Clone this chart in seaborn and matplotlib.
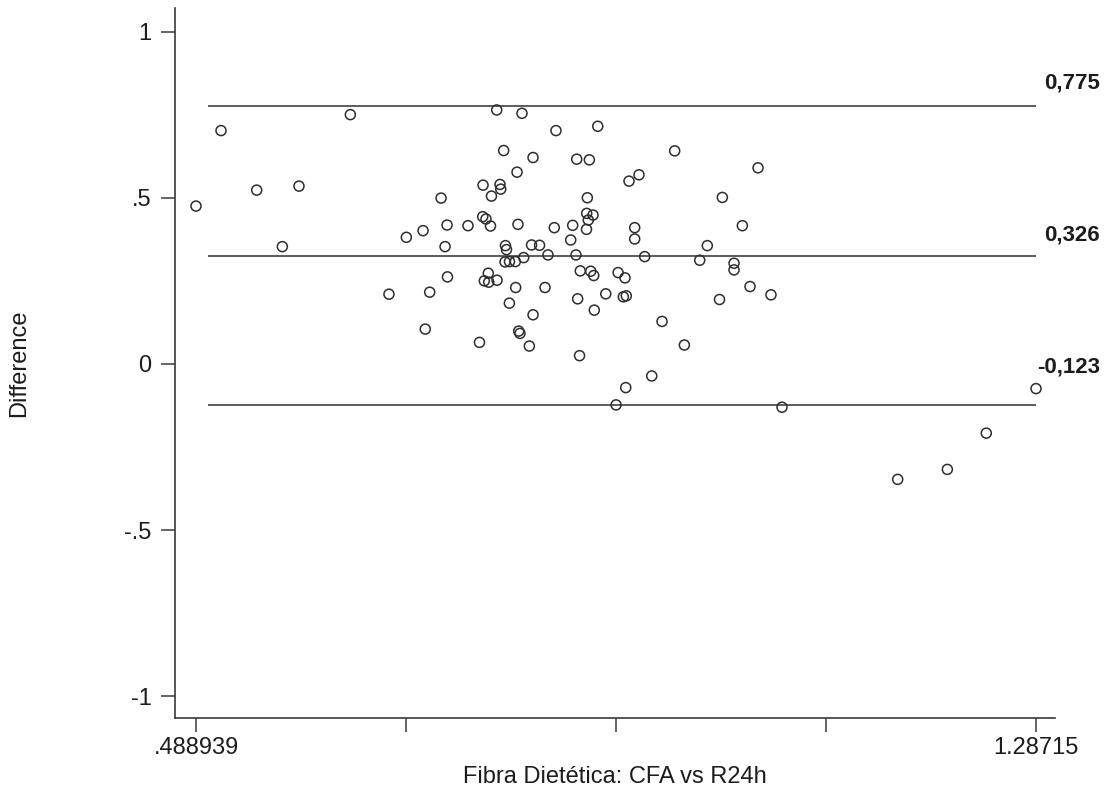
import matplotlib
matplotlib.use("Agg")
import matplotlib.pyplot as plt
import seaborn as sns
import pandas as pd

# Bland-Altman: mean of the two methods (x) vs their difference (y)
mean_values = [
    0.488939, 0.5127, 0.5466, 0.5868, 0.5710, 0.6356, 0.6723, 0.6888, 0.7047, 0.7068,
    0.7110, 0.7218, 0.7256, 0.7275, 0.7279, 0.7474, 0.7583, 0.7617, 0.7614, 0.7645,
    0.7688, 0.7697, 0.7667, 0.7629, 0.7671, 0.7750, 0.7747, 0.7778, 0.7785, 0.7813,
    0.7830, 0.7840, 0.7826, 0.7868, 0.7924, 0.7867, 0.7927, 0.7940, 0.7949, 0.7956,
    0.7968, 0.7987, 0.8003, 0.8057, 0.8078, 0.8154, 0.8092, 0.8092, 0.8206, 0.8234,
    0.8294, 0.8310, 0.8450, 0.8469, 0.8500, 0.8507, 0.8516, 0.8534, 0.8541, 0.8602,
    0.8608, 0.8617, 0.8600, 0.8627, 0.8640, 0.8662, 0.8669, 0.8674, 0.8707, 0.8783,
    0.8881, 0.8900, 0.8950, 0.8966, 0.8978, 0.8973, 0.9004, 0.9058, 0.9058, 0.9099,
    0.9153, 0.9220, 0.9318, 0.9438, 0.9530, 0.9676, 0.9748, 0.9864, 0.9891, 1.0002,
    1.0002, 1.0081, 1.0154, 1.0230, 1.0353, 1.0458, 1.1557, 1.2029, 1.2399, 1.28715,
]
diff_values = [
    0.475, 0.702, 0.523, 0.535, 0.353, 0.750, 0.210, 0.381, 0.401, 0.105,
    0.216, 0.499, 0.353, 0.418, 0.262, 0.416, 0.065, 0.538, 0.443, 0.436,
    0.415, 0.505, 0.273, 0.250, 0.246, 0.252, 0.764, 0.540, 0.526, 0.642,
    0.356, 0.344, 0.307, 0.308, 0.308, 0.183, 0.230, 0.577, 0.420, 0.099,
    0.092, 0.754, 0.320, 0.054, 0.358, 0.357, 0.621, 0.148, 0.230, 0.328,
    0.410, 0.702, 0.373, 0.417, 0.328, 0.616, 0.196, 0.025, 0.280, 0.453,
    0.500, 0.433, 0.405, 0.614, 0.279, 0.448, 0.266, 0.162, 0.715, 0.211,
    -0.123, 0.275, 0.202, 0.259, 0.205, -0.071, 0.550, 0.410, 0.376, 0.569,
    0.323, -0.036, 0.128, 0.641, 0.057, 0.312, 0.356, 0.194, 0.501, 0.303,
    0.283, 0.416, 0.233, 0.590, 0.208, -0.130, -0.347, -0.317, -0.208, -0.074,
]

# Mean difference and limits of agreement
agreement_values = [0.775, 0.326, -0.123]
agreement_labels = ["0,775", "0,326", "-0,123"]
agreement_label_lift = [9.5, 7.5, 19.5]  # points above each line
line_start = 0.5

y_ticks = [1, 0.5, 0, -0.5, -1]
y_tick_labels = ["1", ".5", "0", "-.5", "-1"]
x_tick_labels = [".488939", "", "", "", "1.28715"]

sns.set_theme(style="white")
plt.rcParams["font.family"] = ["Liberation Sans", "DejaVu Sans"]
text_color = "#1c1c1c"
axis_color = "#3a3a3a"

df = pd.DataFrame({"mean": mean_values, "diff": diff_values})

fig = plt.figure(figsize=(11.12, 7.92), dpi=100)
ax = fig.add_axes([175 / 1112, 1 - 718 / 792, 880 / 1112, 710 / 792])

x_lo, x_hi = min(mean_values), max(mean_values)
for val in agreement_values:
    ax.hlines(val, line_start, x_hi, color="#5c5c5c", linewidth=1.4, zorder=1)

sns.scatterplot(data=df, x="mean", y="diff", ax=ax, marker="o", s=52,
                linewidth=1.1, edgecolor="#2e2e2e", zorder=3, legend=False)
ax.collections[-1].set_facecolor("none")

for val, lab, lift in zip(agreement_values, agreement_labels, agreement_label_lift):
    ax.annotate(lab, xy=(1.0, val), xycoords=("axes fraction", "data"),
                xytext=(32.5, lift), textcoords="offset points",
                ha="right", va="bottom", fontsize=16, fontweight="bold",
                color=text_color, annotation_clip=False)

span = x_hi - x_lo
ax.set_xlim(x_lo - span * 0.025, x_hi + span * 0.0226)
ax.set_ylim(-1.0647, 1.0707)

x_ticks = [x_lo + span * k / 4 for k in range(5)]
ax.set_xticks(x_ticks)
ax.set_xticklabels(x_tick_labels)
ax.set_yticks(y_ticks)
ax.set_yticklabels(y_tick_labels)

ax.tick_params(axis="both", which="major", direction="out", length=10,
               width=1.1, color=axis_color, labelsize=17, labelcolor=text_color,
               left=True, bottom=True)
ax.tick_params(axis="y", pad=7)
ax.tick_params(axis="x", pad=4)

for side in ["top", "right"]:
    ax.spines[side].set_visible(False)
for side in ["left", "bottom"]:
    ax.spines[side].set_color(axis_color)
    ax.spines[side].set_linewidth(1.2)

ax.set_xlabel("Fibra Dietética: CFA vs R24h", fontsize=17, color=text_color, labelpad=5)
ax.set_ylabel("Difference", fontsize=17, color=text_color)
ax.yaxis.set_label_coords(-0.165, 0.5)

fig.savefig("out.png", dpi=100, facecolor="white")
